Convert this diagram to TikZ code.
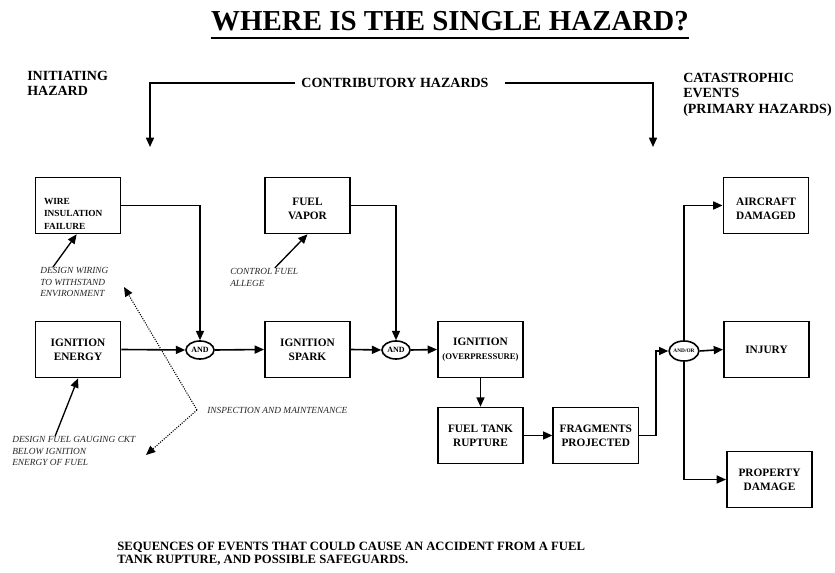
\documentclass[tikz,border=0pt]{standalone}
\usepackage{fontspec}
\setmainfont{Liberation Serif}
\usepackage{tikz}
\usetikzlibrary{arrows.meta, positioning, shapes.geometric}

\tikzset{
  event/.style={draw, line width=1.2pt, minimum width=64pt, minimum height=42pt,
    align=center, inner sep=1pt, font=\fontsize{8.5}{10.5}\selectfont\bfseries},
  gate/.style={draw, ellipse, line width=1.2pt, minimum width=21pt, minimum height=13.5pt,
    inner sep=0pt, font=\fontsize{6}{6}\selectfont\bfseries},
  header/.style={align=left, inner sep=0pt, font=\fontsize{10.5}{11.5}\selectfont\bfseries},
  guard/.style={align=left, inner sep=0pt, text=black!85, font=\fontsize{7}{8.8}\selectfont\itshape},
  flow/.style={->, line width=1.2pt},
  check/.style={-{Triangle[length=7pt,width=6pt]}, densely dotted, line width=0.8pt}
}

\begin{document}
\begin{tikzpicture}[x=0.75pt, y=-0.75pt, on grid, >={Triangle[length=7pt,width=6pt]}]
    \useasboundingbox (0,0) rectangle (835,573);

    % title and headings
    \node[font=\fontsize{21.7}{21.7}\selectfont\bfseries, inner sep=0pt] (title) at (450,21) {WHERE IS THE SINGLE HAZARD?};
    \draw[line width=1.5pt] ([yshift=-5pt]title.south west) -- ([yshift=-5pt]title.south east);
    \node[header, anchor=north west] (initiating) at (27,71) {INITIATING\\HAZARD};
    \node[header, inner sep=5pt] (contrib) at (395,83) {CONTRIBUTORY HAZARDS};
    \node[header, anchor=north west] (catastrophic) at (683,73) {CATASTROPHIC\\EVENTS\\(PRIMARY HAZARDS)};
    \coordinate (cleft) at (150,147);
    \coordinate (cright) at (653,147);
    \draw[flow] (contrib.west) -| (cleft);
    \draw[flow] ([xshift=7pt]contrib.east) -| (cright);

    % chain of events
    \node[event] (energy) at (78,349.5) {IGNITION\\ENERGY};
    \node[event, align=left, text width=51pt, inner xsep=6.5pt, font=\fontsize{7}{9.5}\selectfont\bfseries] (wire) [above=108pt of energy]
      {\rule{0pt}{17pt}WIRE\\INSULATION\\FAILURE};
    \node[gate] (and1) at (200,350) {AND};
    \node[event] (spark) at (307.5,349.5) {IGNITION\\SPARK};
    \node[event] (vapor) [above=108pt of spark] {\rule{0pt}{11pt}FUEL\\VAPOR};
    \node[gate] (and2) at (396,350) {AND};
    \node[event] (overp) at (480.5,349.5) {IGNITION\\{\fontsize{6.5}{8}\selectfont(OVERPRESSURE)}};
    \node[event] (rupture) [below=64.5pt of overp] {FUEL TANK\\RUPTURE};
    \node[event] (frag) [right=86.5pt of rupture] {FRAGMENTS\\PROJECTED};
    \node[gate, minimum height=15pt, font=\fontsize{4}{4}\selectfont\bfseries] (andor) at (684,351) {AND/OR};
    \node[event] (aircraft) at (766,205.5) {\rule{0pt}{11pt}AIRCRAFT\\DAMAGED};
    \node[event] (injury) at (766.5,349.5) {INJURY};
    \node[event] (property) at (769.5,479.5) {PROPERTY\\DAMAGE};

    \draw[flow] (wire.east) -| (and1.north);
    \draw[flow] (energy.east) -- (and1.west);
    \draw[flow] (and1.east) -- (spark.west);
    \draw[flow] (vapor.east) -| (and2.north);
    \draw[flow] (spark.east) -- (and2.west);
    \draw[flow] (and2.east) -- (overp.west);
    \draw[flow] (overp.south) -- (rupture.north);
    \draw[flow] (rupture.east) -- (frag.west);
    \coordinate (kink) at (656,0);
    \draw[flow] (frag.east) -- (frag.east -| kink) -- (kink |- andor.west) -- (andor.west);
    \draw[flow] (andor.north) |- (aircraft.west);
    \draw[flow] (andor.east) -- (injury.west);
    \draw[flow] (andor.south) |- (property.west);

    % safeguards
    \node[guard, anchor=north west] (dwire) at (40,267) {DESIGN WIRING\\TO WITHSTAND\\ENVIRONMENT};
    \node[guard, anchor=north west] (cfuel) at (230,268) {CONTROL FUEL\\ALLEGE};
    \node[guard, anchor=north west] (dgauge) at (12,436) {DESIGN FUEL GAUGING CKT\\BELOW IGNITION\\ENERGY OF FUEL};
    \node[guard, anchor=west] (insp) at (207,410) {INSPECTION AND MAINTENANCE};
    \draw[->, line width=1pt] ([xshift=-16pt]dwire.north) -- ([xshift=-1pt]wire.south);
    \draw[->, line width=1pt] ([xshift=8pt]cfuel.north) -- (vapor.south);
    \draw[->, line width=1pt] ([xshift=-14pt]dgauge.north) -- (energy.south);
    \coordinate (fork) at (197,410);
    \coordinate (up) at (124,287);
    \coordinate (down) at (146,455);
    \draw[check] (fork) -- (up);
    \draw[check] (fork) -- (down);

    % caption
    \node[anchor=north west, align=left, inner sep=0pt, font=\fontsize{9.5}{10}\selectfont\bfseries] (caption) at (117,542)
      {SEQUENCES OF EVENTS THAT COULD CAUSE AN ACCIDENT FROM A FUEL\\TANK RUPTURE, AND POSSIBLE SAFEGUARDS.};
\end{tikzpicture}
\end{document}
